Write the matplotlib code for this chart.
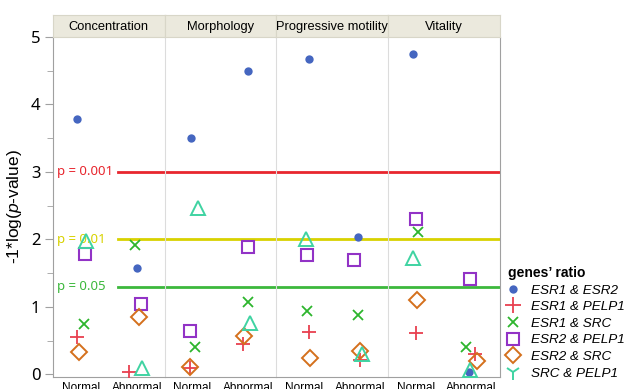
import matplotlib
matplotlib.use("Agg")
import matplotlib.pyplot as plt
from matplotlib.lines import Line2D
import numpy as np

plt.rcParams['font.family'] = ['Liberation Sans', 'DejaVu Sans']
plt.rcParams['mathtext.fontset'] = 'custom'
plt.rcParams['mathtext.rm'] = 'Liberation Sans'
plt.rcParams['mathtext.it'] = 'Liberation Sans:italic'

panels = ['Concentration', 'Morphology', 'Progressive motility', 'Vitality']
groups = ['Normal', 'Abnormal']

# -1*log(p) per panel, Normal then Abnormal
esr1_esr2 = [3.78, 1.58, 3.51, 4.49, 4.68, 2.04, 4.75, 0.03]
esr1_pelp1 = [0.56, 0.03, 0.09, 0.45, 0.63, 0.21, 0.62, 0.30]
esr1_src = [0.75, 1.92, 0.40, 1.08, 0.94, 0.88, 2.11, 0.40]
esr2_pelp1 = [1.78, 1.05, 0.65, 1.89, 1.77, 1.69, 2.31, 1.42]
esr2_src = [0.33, 0.855, 0.115, 0.57, 0.25, 0.35, 1.10, 0.20]
src_pelp1 = [1.98, 0.09, 2.46, 0.76, 2.01, 0.31, 1.72, 0.07]

series_names = ['ESR1 & ESR2', 'ESR1 & PELP1', 'ESR1 & SRC',
                'ESR2 & PELP1', 'ESR2 & SRC', 'SRC & PELP1']
series_vals = [esr1_esr2, esr1_pelp1, esr1_src, esr2_pelp1, esr2_src, src_pelp1]

# p-value thresholds
thr_labels = ['p = 0.001', 'p = 0.01', 'p = 0.05']
thr_vals = [3.0, 2.0, 1.3]
thr_colors = ['#e8262e', '#d8d200', '#3cb83c']

# horizontal jitter so overlapping points stay visible
jitter = [
    [-0.075, 0.01, -0.02, -0.01, 0.08, -0.04, -0.045, -0.04],
    [-0.075, -0.13, -0.05, -0.09, 0.08, 0.0, 0.0, 0.06],
    [0.055, -0.03, 0.04, -0.01, 0.05, -0.04, 0.045, -0.1],
    [0.07, 0.07, -0.04, 0.0, 0.05, -0.1, 0.0, -0.02],
    [-0.03, 0.04, -0.04, -0.07, 0.1, 0.0, 0.03, 0.09],
    [0.09, 0.09, 0.1, 0.03, 0.03, 0.03, -0.045, -0.03],
]

styles = [
    dict(marker='o', color='#4566c0', ms=6, mfc='#4566c0', mew=0),
    dict(marker='+', color='#e8404f', ms=10, mfc='none', mew=1.3),
    dict(marker='x', color='#2db52d', ms=7.5, mfc='none', mew=1.3),
    dict(marker='s', color='#9233c6', ms=8, mfc='none', mew=1.5),
    dict(marker='D', color='#d4701c', ms=8, mfc='none', mew=1.4),
    dict(marker='^', color='#3fd3a2', ms=10, mfc='none', mew=1.4),
]

fig = plt.figure(figsize=(6.33, 3.89), dpi=100)
W, H = 633, 389
x0, x1 = 53, 499.5
top, bot = 37, 376.5
pw = (x1 - x0) / 4
edge = '#a0a0a0'
divider = '#dcdcdc'

for i, name in enumerate(panels):
    ax = fig.add_axes([(x0 + i * pw) / W, (H - bot) / H, pw / W, (bot - top) / H])
    ax.set_xlim(-0.5, 1.5)
    ax.set_ylim(-0.03, 5.0)
    ax.set_xticks([0, 1])
    ax.set_xticklabels(groups, fontsize=8.5)
    ax.tick_params(axis='x', length=0, pad=4)
    ax.spines['top'].set_visible(False)
    ax.spines['bottom'].set_color(edge)
    ax.spines['left'].set_color(edge if i == 0 else divider)
    ax.spines['right'].set_visible(i == 3)
    ax.spines['right'].set_color(edge)

    for v, c in zip(thr_vals, thr_colors):
        ax.axhline(v, color=c, lw=2, xmin=0.58 if i == 0 else 0, zorder=1)

    for vals, jit, st in zip(series_vals, jitter, styles):
        for g in range(2):
            k = 2 * i + g
            ax.plot(g + jit[k], vals[k], ls='none', zorder=3, **st)

    if i == 0:
        ax.set_yticks(np.arange(0, 6, 1))
        ax.set_yticks(np.arange(0.5, 5, 1), minor=True)
        ax.tick_params(axis='y', which='major', length=6, color=edge, labelsize=12, pad=3)
        ax.tick_params(axis='y', which='minor', length=4, color=edge)
        for lab in ax.get_yticklabels():
            lab.set_family('Noto Sans')
        ax.set_ylabel('-1*log($\\mathit{p}$-value)', fontsize=12.5, labelpad=5)
        for v, lab, c in zip(thr_vals, thr_labels, thr_colors):
            ax.text(-0.43, v, lab, color=c, fontsize=9.5, family='Noto Sans',
                    va='center', ha='left', zorder=2)
    else:
        ax.set_yticks([])

    # strip header above each panel
    hx = ax.get_position().x0
    hax = fig.add_axes([hx, (H - top) / H, pw / W, 22 / H])
    hax.set_xticks([])
    hax.set_yticks([])
    hax.set_facecolor('#ebe9dd')
    for s in hax.spines.values():
        s.set_color('#d8d6c8')
    hax.text(0.5, 0.45, name, ha='center', va='center', fontsize=9.3,
             transform=hax.transAxes)

# legend
handles = []
for st in styles:
    s = dict(st)
    if s['marker'] == '^':
        s['marker'] = '1'
        s['ms'] = 11
    if s['marker'] == '+':
        s['ms'] = 12
    handles.append(Line2D([], [], ls='none', **s))
leg = fig.legend(handles, series_names, loc='upper left',
                 bbox_to_anchor=(508 / W, 1 - 266 / H), frameon=False,
                 title="genes\u2019 ratio", alignment='left',
                 prop=dict(style='italic', size=9.7),
                 handletextpad=0.9, labelspacing=0.31, handlelength=0.8,
                 borderaxespad=0, borderpad=0)
leg.get_title().set_fontweight('bold')
leg.get_title().set_fontsize(10)

fig.savefig('out.png', dpi=100)
